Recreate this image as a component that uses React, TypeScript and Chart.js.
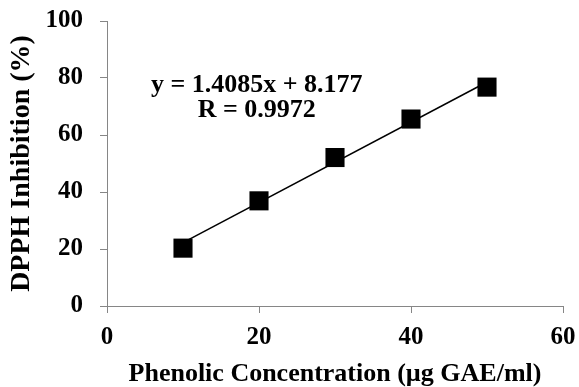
import React, { useEffect, useRef } from "react";
import { Chart, registerables } from "chart.js";

Chart.register(...registerables);

const concentrations = [10, 20, 30, 40, 50];
const inhibition = [20.3, 36.9, 52.1, 65.6, 76.8];
const trendX = [10, 50];
const trendY = [22.26, 78.6];
const equationLines = ["y = 1.4085x + 8.177", "R = 0.9972"];
const equationAnchor = { x: 19.7, y1: 77.6, y2: 68.6 };
const xTitle = "Phenolic Concentration (µg GAE/ml)";
const yTitle = "DPPH Inhibition (%)";

const FONT = "'Liberation Serif', 'Times New Roman', serif";

const equationPlugin = {
  id: "equation",
  afterDatasetsDraw(chart: any) {
    const { ctx, scales } = chart;
    const x = scales.x.getPixelForValue(equationAnchor.x);
    const y1 = scales.y.getPixelForValue(equationAnchor.y1);
    const y2 = scales.y.getPixelForValue(equationAnchor.y2);
    ctx.save();
    ctx.fillStyle = "#000";
    ctx.font = `bold 26px ${FONT}`;
    ctx.textAlign = "center";
    ctx.textBaseline = "middle";
    ctx.fillText(equationLines[0], x, y1);
    ctx.fillText(equationLines[1], x, y2);
    ctx.restore();
  },
};

const zeroPad = (s: any) => {
  s.paddingTop = 0;
  s.paddingBottom = 0;
  s.paddingLeft = 0;
  s.paddingRight = 0;
};

export default function App() {
  const ref = useRef<HTMLCanvasElement>(null);
  useEffect(() => {
    if (!ref.current) return;
    const chart = new Chart(ref.current, {
      type: "scatter",
      data: {
        datasets: [
          {
            type: "line",
            data: trendX.map((x, i) => ({ x, y: trendY[i] })),
            borderColor: "#000",
            borderWidth: 1.5,
            pointRadius: 0,
            fill: false,
          } as any,
          {
            data: concentrations.map((x, i) => ({ x, y: inhibition[i] })),
            pointStyle: "rect",
            pointRadius: 13.5,
            pointHoverRadius: 13.5,
            backgroundColor: "#000",
            borderColor: "#000",
            borderWidth: 0,
          },
        ],
      },
      options: {
        animation: false,
        responsive: false,
        maintainAspectRatio: false,
        layout: { padding: { top: 21, right: 16, left: 0, bottom: 0 } },
        plugins: { legend: { display: false }, tooltip: { enabled: false } },
        scales: {
          x: {
            type: "linear",
            min: 0,
            max: 60,
            afterFit: (s: any) => { s.height = 81; zeroPad(s); },
            ticks: {
              stepSize: 20,
              color: "#000",
              padding: 10,
              font: { family: FONT, size: 25, weight: "bold" },
            },
            grid: {
              display: true,
              drawOnChartArea: false,
              drawTicks: true,
              tickLength: 7,
              color: "#868686",
            },
            border: { color: "#868686", width: 1 },
            title: {
              display: true,
              text: xTitle,
              color: "#000",
              font: { family: FONT, size: 26, weight: "bold", lineHeight: 1 },
              padding: { top: 0, bottom: 0 },
            },
          },
          y: {
            type: "linear",
            min: 0,
            max: 100,
            afterFit: (s: any) => { s.width = 107; zeroPad(s); },
            ticks: {
              stepSize: 20,
              color: "#000",
              padding: 17,
              font: { family: FONT, size: 25, weight: "bold" },
            },
            grid: {
              display: true,
              drawOnChartArea: false,
              drawTicks: true,
              tickLength: 7,
              color: "#868686",
            },
            border: { color: "#868686", width: 1 },
            title: {
              display: true,
              text: yTitle,
              color: "#000",
              font: { family: FONT, size: 28, weight: "bold" },
              padding: { top: 5, bottom: 0 },
            },
          },
        },
      },
      plugins: [equationPlugin],
    });
    return () => chart.destroy();
  }, []);
  return (
    <div style={{ position: "fixed", left: 0, top: 0, width: 579, height: 387, background: "#fff" }}>
      <canvas ref={ref} width={579} height={387} style={{ width: 579, height: 387 }} />
    </div>
  );
}
